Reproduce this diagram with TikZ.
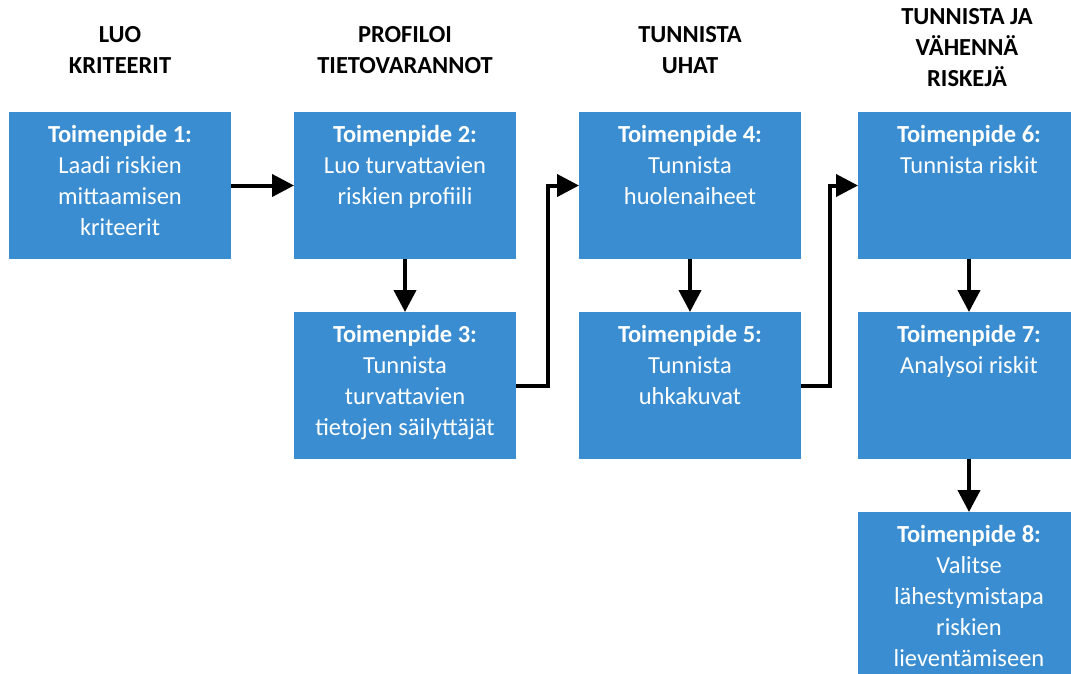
\documentclass[tikz,border=0pt]{standalone}
\usepackage{fontspec}
\setmainfont{Carlito}
\usetikzlibrary{arrows.meta}
\definecolor{stepblue}{HTML}{3A8DD0}
\begin{document}
\begin{tikzpicture}[x=1pt,y=-1pt,
  stepbox/.style={rectangle, fill=stepblue, minimum width=222pt, minimum height=147pt, inner sep=0pt, outer sep=0pt, anchor=north west},
  tallbox/.style={stepbox, minimum height=200pt},
  steptext/.style={anchor=north, inner sep=0pt, text=white, align=center, font=\fontsize{24.5}{31}\selectfont},
  phase/.style={align=center, inner sep=0pt, font=\bfseries\fontsize{24.5}{31}\selectfont},
  flow/.style={line width=4pt, -{Triangle[length=22pt,width=22pt]}},
]
\useasboundingbox (0,0) rectangle (1071,673);

% phase headings
\node[phase] (h1) at (120,50) {LUO\\KRITEERIT};
\node[phase] (h2) at (405,50) {PROFILOI\\TIETOVARANNOT};
\node[phase] (h3) at (690,50) {TUNNISTA\\UHAT};
\node[phase] (h4) at (967,48) {TUNNISTA JA\\VÄHENNÄ\\RISKEJÄ};

% step boxes
\node[stepbox] (b1) at (9,112) {};
\node[stepbox] (b2) at (294,112) {};
\node[stepbox] (b3) at (294,312) {};
\node[stepbox] (b4) at (579,112) {};
\node[stepbox] (b5) at (579,312) {};
\node[stepbox] (b6) at (858,112) {};
\node[stepbox] (b7) at (858,312) {};
\node[tallbox] (b8) at (858,512) {};

% step texts
\node[steptext] (t1) at ([yshift=-13pt]b1.north) {\textbf{Toimenpide 1:}\\Laadi riskien\\mittaamisen\\kriteerit};
\node[steptext] (t2) at ([yshift=-13pt]b2.north) {\textbf{Toimenpide 2:}\\Luo turvattavien\\riskien profiili};
\node[steptext] (t3) at ([yshift=-13pt]b3.north) {\textbf{Toimenpide 3:}\\Tunnista\\turvattavien\\tietojen säilyttäjät};
\node[steptext] (t4) at ([yshift=-13pt]b4.north) {\textbf{Toimenpide 4:}\\Tunnista\\huolenaiheet};
\node[steptext] (t5) at ([yshift=-13pt]b5.north) {\textbf{Toimenpide 5:}\\Tunnista\\uhkakuvat};
\node[steptext] (t6) at ([yshift=-13pt]b6.north) {\textbf{Toimenpide 6:}\\Tunnista riskit};
\node[steptext] (t7) at ([yshift=-13pt]b7.north) {\textbf{Toimenpide 7:}\\Analysoi riskit};
\node[steptext] (t8) at ([yshift=-13pt]b8.north) {\textbf{Toimenpide 8:}\\Valitse\\lähestymistapa\\riskien\\lieventämiseen};

% connectors
\draw[flow] (b1.east) -- (b2.west);
\draw[flow] (b2.south) -- (b3.north);
\draw[flow] (b3.east) -- ++(32,0) |- (b4.west);
\draw[flow] (b4.south) -- (b5.north);
\draw[flow] (b5.east) -- ++(29,0) |- (b6.west);
\draw[flow] (b6.south) -- (b7.north);
\draw[flow] (b7.south) -- (b8.north);
\end{tikzpicture}
\end{document}
